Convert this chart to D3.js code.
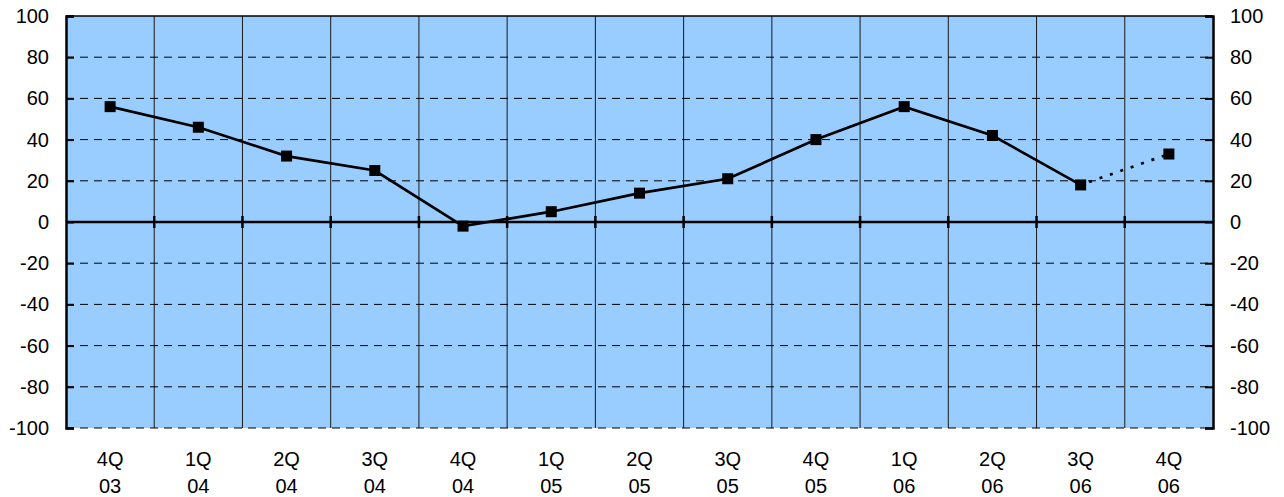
<!DOCTYPE html>
<html>
<head>
<meta charset="utf-8">
<script src="https://cdn.jsdelivr.net/npm/d3@7"></script>
<style>
  html, body { margin: 0; padding: 0; background: #fff; }
  svg { display: block; font-family: "Liberation Sans", Arial, sans-serif; }
</style>
</head>
<body>
<svg id="chart" width="1284" height="497"></svg>
<script>
// Quarterly balance series
const quarters = ["4Q", "1Q", "2Q", "3Q", "4Q", "1Q", "2Q", "3Q", "4Q", "1Q", "2Q", "3Q", "4Q"];
const years    = ["03", "04", "04", "04", "04", "05", "05", "05", "05", "06", "06", "06", "06"];
const values   = [56, 46, 32, 25, -2, 5, 14, 21, 40, 56, 42, 18, 33];
const yTicks   = [-100, -80, -60, -40, -20, 0, 20, 40, 60, 80, 100];
const forecastFrom = 11; // last segment (3Q06 -> 4Q06) drawn dotted

(function () {
const svg = d3.select("#chart");
const pL = 66, pR = 1213, pT = 16, pB = 428;
const fontSize = "20px";

const idx = d3.range(values.length);
const x = d3.scaleBand().domain(idx).range([pL, pR]).padding(0);
const y = d3.scaleLinear().domain([-100, 100]).range([pB, pT]);
const cx = i => x(i) + x.bandwidth() / 2;
const fmt = v => String(v); // plain hyphen for negatives

// plot background
svg.append("rect")
  .attr("x", pL).attr("y", pT)
  .attr("width", pR - pL).attr("height", pB - pT)
  .attr("fill", "#99CCFF");

// vertical category separators
svg.append("g").selectAll("line")
  .data(idx.slice(1))
  .join("line")
  .attr("x1", i => x(i)).attr("x2", i => x(i))
  .attr("y1", pT).attr("y2", pB)
  .attr("stroke", "#1a1a1a").attr("stroke-width", 1);

// dashed horizontal gridlines
svg.append("g").selectAll("line")
  .data(yTicks.filter(v => v !== 0 && v !== 100))
  .join("line")
  .attr("x1", pL).attr("x2", pR)
  .attr("y1", v => y(v)).attr("y2", v => y(v))
  .attr("stroke", "#000").attr("stroke-width", 1)
  .attr("stroke-dasharray", "8,6");

// top border
svg.append("line")
  .attr("x1", pL).attr("x2", pR)
  .attr("y1", pT).attr("y2", pT)
  .attr("stroke", "#000").attr("stroke-width", 1.5);

// left and right value axes (ticks inward)
const axL = d3.axisLeft(y).tickValues(yTicks).tickSize(-8).tickPadding(17).tickFormat(fmt);
const axR = d3.axisRight(y).tickValues(yTicks).tickSize(-8).tickPadding(17).tickFormat(fmt);

function styleAxis(g) {
  g.select(".domain").attr("stroke", "#000").attr("stroke-width", 2.5);
  g.selectAll(".tick line").attr("stroke", "#000").attr("stroke-width", 2);
  g.selectAll(".tick text").attr("fill", "#000").style("font-size", fontSize)
    .style("font-family", "'Liberation Sans', Arial, sans-serif");
}
svg.append("g").attr("transform", `translate(${pL},0)`).call(axL).call(styleAxis);
svg.append("g").attr("transform", `translate(${pR},0)`).call(axR).call(styleAxis);

// zero line with category ticks
svg.append("line")
  .attr("x1", pL).attr("x2", pR)
  .attr("y1", y(0)).attr("y2", y(0))
  .attr("stroke", "#000").attr("stroke-width", 2.5);
svg.append("g").selectAll("line")
  .data(idx.slice(1))
  .join("line")
  .attr("x1", i => x(i)).attr("x2", i => x(i))
  .attr("y1", y(0) - 6).attr("y2", y(0) + 6)
  .attr("stroke", "#000").attr("stroke-width", 2.5);

// category labels (two lines)
const lab = svg.append("g").selectAll("text")
  .data(idx)
  .join("text")
  .attr("x", cx)
  .attr("text-anchor", "middle")
  .style("font-size", fontSize)
  .attr("fill", "#000");
lab.append("tspan").attr("x", cx).attr("y", 466).text(i => quarters[i]);
lab.append("tspan").attr("x", cx).attr("y", 493).text(i => years[i]);

// series line: solid actuals, dotted forecast
const line = d3.line().x(d => cx(d)).y(d => y(values[d]));
svg.append("path")
  .attr("d", line(idx.slice(0, forecastFrom + 1)))
  .attr("fill", "none").attr("stroke", "#000").attr("stroke-width", 2.7);
svg.append("path")
  .attr("d", line(idx.slice(forecastFrom)))
  .attr("fill", "none").attr("stroke", "#000").attr("stroke-width", 2.7)
  .attr("stroke-dasharray", "3,8").attr("stroke-dashoffset", -9);

// square markers
svg.append("g").selectAll("rect")
  .data(idx)
  .join("rect")
  .attr("x", i => cx(i) - 5.5).attr("y", i => y(values[i]) - 5.5)
  .attr("width", 11).attr("height", 11)
  .attr("fill", "#000");
})();
</script>
</body>
</html>
